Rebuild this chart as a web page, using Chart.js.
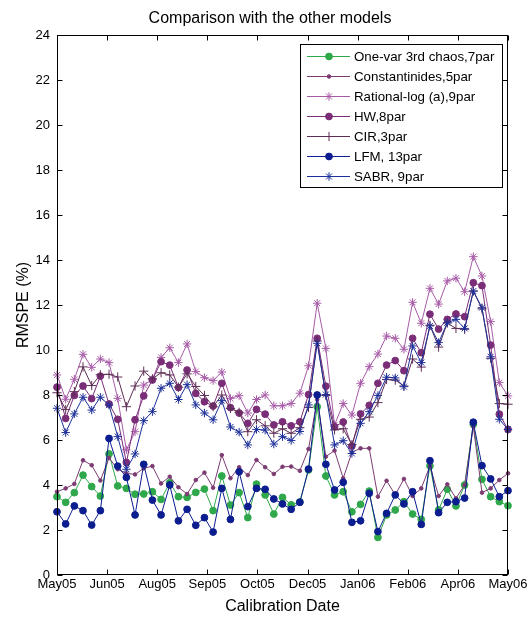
<!DOCTYPE html>
<html>
<head>
<meta charset="utf-8">
<script src="https://cdn.jsdelivr.net/npm/chart.js@4.4.1/dist/chart.umd.min.js"></script>
<style>
html,body{margin:0;padding:0;background:#fff;}
#wrap{position:relative;width:532px;height:618px;}
</style>
</head>
<body>
<div id="wrap"><canvas id="c" width="532" height="618"></canvas></div>
<script>
// ---- data (weekly calibrations, May05 -> May06) ----
const chartTitle = 'Comparison with the other models';
const xAxisTitle = 'Calibration Date';
const yAxisTitle = 'RMSPE (%)';
const xTickLabels = ['May05','Jun05','Aug05','Sep05','Oct05','Dec05','Jan06','Feb06','Apr06','May06'];
const seriesNames = ['One-var 3rd chaos,7par','Constantinides,5par','Rational-log (a),9par','HW,8par','CIR,3par','LFM, 13par','SABR, 9par'];

const oneVar = [3.48,3.23,3.66,4.44,3.93,3.51,5.38,3.96,3.85,3.59,3.60,3.70,3.36,4.10,3.48,3.45,3.67,3.82,2.86,4.40,3.11,3.66,2.55,4.04,3.56,2.71,3.45,3.12,3.25,4.67,7.48,4.40,3.56,3.70,2.81,3.14,3.73,1.67,2.67,2.89,3.26,2.71,2.47,4.85,2.89,3.81,3.07,4.00,6.70,4.25,3.48,3.26,3.08];
const constantinides = [3.70,3.85,4.05,5.10,4.88,4.20,5.20,4.70,4.52,4.47,4.74,4.84,4.07,4.37,3.90,3.60,4.22,4.55,3.88,5.33,4.30,4.79,4.44,5.11,4.79,4.49,4.81,4.82,4.63,5.60,7.80,5.26,5.53,4.30,5.45,5.63,5.63,3.48,4.19,3.56,4.27,3.51,3.85,4.85,3.51,4.03,3.41,4.00,6.60,3.66,3.85,4.22,4.52];
const rationalLog = [8.89,7.81,8.70,9.81,9.23,9.60,9.44,7.85,5.56,6.37,8.44,8.70,9.67,10.10,9.44,10.27,9.04,8.77,8.64,9.02,7.85,7.97,7.20,7.80,8.00,7.52,7.52,7.62,8.08,9.30,12.08,10.07,6.67,7.62,7.11,8.52,9.26,9.82,10.62,10.52,10.03,12.12,11.19,12.74,12.04,13.07,13.19,12.59,14.15,13.29,11.26,8.55,7.96];
const hw = [8.35,6.96,7.98,8.40,7.84,8.84,7.60,6.92,5.00,6.90,7.96,8.67,9.48,9.33,8.33,9.11,8.07,7.70,7.51,8.52,7.44,7.20,6.74,7.36,7.15,6.67,6.81,6.63,6.81,8.02,10.52,8.39,6.59,6.80,5.73,7.16,7.54,8.52,9.33,9.53,9.08,10.52,9.88,11.59,10.93,11.36,11.60,11.48,12.99,12.86,10.22,7.15,6.47];
const cir = [8.10,7.35,8.15,9.25,8.42,8.90,8.92,8.80,7.48,8.40,9.06,8.72,8.99,8.89,8.35,8.94,8.38,7.98,7.48,8.00,7.40,7.23,6.37,6.90,6.63,6.30,6.50,6.30,6.55,7.45,10.40,7.98,6.45,6.50,5.80,6.92,7.02,7.66,8.69,8.66,8.40,9.60,9.24,11.10,10.13,11.20,10.96,10.92,12.62,11.83,9.63,7.62,7.59];
const lfm = [2.81,2.27,3.07,2.86,2.22,2.86,6.07,4.84,4.34,2.67,4.92,3.33,2.67,4.00,2.41,2.92,2.21,2.55,1.91,3.85,2.47,4.59,3.04,3.85,3.81,3.38,3.16,2.92,3.23,4.71,8.00,4.92,3.78,4.12,2.34,2.41,3.63,1.93,2.74,3.56,3.16,3.70,2.25,5.08,2.77,3.23,3.26,3.42,6.79,4.86,4.27,3.48,3.75];
const sabr = [7.41,6.33,7.16,7.90,7.33,7.90,7.55,6.15,4.70,5.38,6.86,7.26,8.30,8.52,7.80,8.46,7.56,7.20,6.90,7.75,6.58,6.35,5.78,6.47,6.44,5.82,6.15,5.98,6.38,7.56,10.30,8.02,5.78,5.97,5.40,6.74,7.26,7.98,8.79,8.76,8.37,10.18,9.44,11.07,10.33,11.21,11.36,10.96,12.62,11.88,9.70,6.92,6.47];

const yMin = 0, yMax = 24, yStep = 2;

// ---- styles ----
const styles = [
  {color:'#2ea84a', point:'circle', r:3.4},
  {color:'#7c3b72', point:'circle', r:1.8},
  {color:'#a75ba7', point:'star',   r:4.2},
  {color:'#7a2e78', point:'circle', r:3.4},
  {color:'#5e2d55', point:'cross',  r:4.6},
  {color:'#0b1d8f', point:'circle', r:3.4},
  {color:'#1d2f99', point:'star',   r:4.2}
];
const seriesValues = [oneVar, constantinides, rationalLog, hw, cir, lfm, sabr];
const FONT = "'Liberation Sans', Arial, Helvetica, sans-serif";
Chart.defaults.font.family = FONT;
Chart.defaults.color = '#000';

const xIndex = lfm.map((_, i) => i);
const datasets = seriesValues.map((vals, k) => ({
  label: seriesNames[k],
  data: vals,
  borderColor: styles[k].color,
  backgroundColor: styles[k].color,
  pointBorderColor: styles[k].color,
  pointBackgroundColor: styles[k].color,
  pointStyle: styles[k].point,
  pointRadius: styles[k].r,
  pointBorderWidth: 1,
  borderWidth: 1,
  tension: 0,
  clip: false,
  order: seriesValues.length - k
}));

function drawMarker(ctx, style, r, x, y, color) {
  ctx.save();
  ctx.strokeStyle = color; ctx.fillStyle = color; ctx.lineWidth = 1;
  ctx.beginPath();
  if (style === 'circle') {
    ctx.arc(x, y, r, 0, Math.PI * 2); ctx.fill(); ctx.stroke();
  } else if (style === 'cross') {
    ctx.moveTo(x - r, y); ctx.lineTo(x + r, y); ctx.moveTo(x, y - r); ctx.lineTo(x, y + r); ctx.stroke();
  } else if (style === 'star') {
    const d = r * Math.SQRT1_2;
    ctx.moveTo(x - r, y); ctx.lineTo(x + r, y); ctx.moveTo(x, y - r); ctx.lineTo(x, y + r);
    ctx.moveTo(x - d, y - d); ctx.lineTo(x + d, y + d); ctx.moveTo(x - d, y + d); ctx.lineTo(x + d, y - d);
    ctx.stroke();
  }
  ctx.restore();
}

const framePlugin = {
  id: 'frame',
  afterDatasetsDraw(chart) {
    const {ctx, chartArea: a, scales: {x, y}} = chart;
    ctx.save();
    ctx.strokeStyle = '#000'; ctx.lineWidth = 1;
    const L = Math.round(a.left) + 0.5, R = Math.round(a.right) - 0.5;
    const T = Math.round(a.top) + 0.5, B = Math.round(a.bottom) - 0.5;
    ctx.strokeRect(L, T, R - L, B - T);
    const len = 5;
    ctx.beginPath();
    x.ticks.forEach(t => {
      const px = Math.round(x.getPixelForValue(t.value)) + 0.5;
      ctx.moveTo(px, B); ctx.lineTo(px, B - len);
      ctx.moveTo(px, T); ctx.lineTo(px, T + len);
    });
    y.ticks.forEach(t => {
      const py = Math.round(y.getPixelForValue(t.value)) + 0.5;
      ctx.moveTo(L, py); ctx.lineTo(L + len, py);
      ctx.moveTo(R, py); ctx.lineTo(R - len, py);
    });
    ctx.stroke();
    ctx.restore();
  }
};

const legendPlugin = {
  id: 'boxLegend',
  afterDraw(chart) {
    const {ctx, chartArea: a} = chart;
    const bw = 202, bh = 143;
    const bx = a.right - 208, by = a.top + 9;
    ctx.save();
    ctx.fillStyle = '#fff'; ctx.fillRect(bx, by, bw, bh);
    ctx.strokeStyle = '#000'; ctx.lineWidth = 1;
    ctx.strokeRect(bx + 0.5, by + 0.5, bw, bh);
    ctx.font = '13.3px ' + FONT;
    ctx.textBaseline = 'middle';
    ctx.textAlign = 'left';
    chart.data.datasets.forEach((ds, k) => {
      const yy = by + 12 + 20 * k;
      ctx.strokeStyle = ds.borderColor; ctx.lineWidth = 1;
      ctx.beginPath(); ctx.moveTo(bx + 7, yy + 0.5); ctx.lineTo(bx + 50, yy + 0.5); ctx.stroke();
      drawMarker(ctx, ds.pointStyle, ds.pointRadius, bx + 29, yy + 0.5, ds.pointBorderColor);
      ctx.fillStyle = '#000';
      ctx.fillText(ds.label, bx + 54, yy + 1);
    });
    ctx.restore();
  }
};

new Chart(document.getElementById('c'), {
  type: 'line',
  data: { labels: xIndex, datasets },
  plugins: [framePlugin, legendPlugin],
  options: {
    responsive: false,
    animation: false,
    layout: { padding: { left: 8, right: 0, top: 0, bottom: 0 } },
    plugins: {
      legend: { display: false },
      tooltip: { enabled: false },
      title: {
        display: true,
        text: chartTitle,
        color: '#000',
        font: { size: 16, weight: 'normal', family: FONT },
        padding: { top: 8.5, bottom: 7.3 }
      }
    },
    scales: {
      x: {
        type: 'linear',
        min: 0,
        max: xIndex.length - 1,
        grid: { display: false, drawTicks: false },
        border: { display: false },
        afterBuildTicks: (scale) => {
          const n = xTickLabels.length;
          scale.ticks = xTickLabels.map((_, k) => ({ value: k * (xIndex.length - 1) / (n - 1) }));
        },
        ticks: {
          autoSkip: false, maxRotation: 0, minRotation: 0, padding: 2,
          font: { size: 13 }, color: '#000',
          callback: (v, i) => xTickLabels[i]
        },
        title: {
          display: true, text: xAxisTitle, color: '#000',
          font: { size: 16 }, padding: { top: 0, bottom: 1.4 }
        },
        afterFit: (scale) => { scale.height = 43; }
      },
      y: {
        type: 'linear',
        position: 'left',
        min: yMin, max: yMax,
        grid: { display: false, drawTicks: false },
        border: { display: false },
        ticks: { stepSize: yStep, padding: 7, font: { size: 13 }, color: '#000' },
        title: {
          display: true, text: yAxisTitle, color: '#000',
          font: { size: 16 }, padding: { top: 5.8, bottom: 0 }
        },
        afterFit: (scale) => { scale.width = 49; }
      },
      yRight: {
        type: 'linear',
        position: 'right',
        min: yMin, max: yMax,
        grid: { display: false, drawTicks: false },
        border: { display: false },
        ticks: { display: false },
        afterFit: (scale) => { scale.width = 24; }
      }
    }
  }
});
</script>
</body>
</html>
